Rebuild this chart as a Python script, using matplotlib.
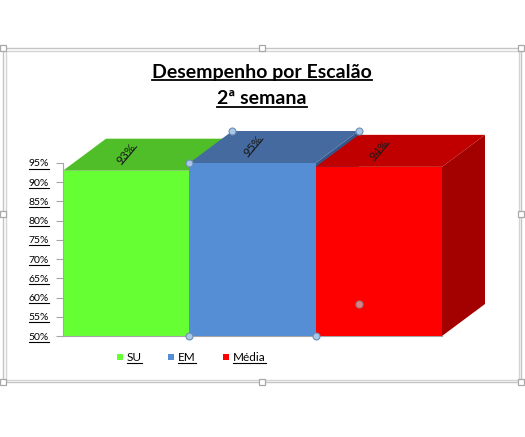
import numpy as np
import matplotlib
matplotlib.use("Agg")
import matplotlib.pyplot as plt
from matplotlib.patches import Polygon, Rectangle
from matplotlib.lines import Line2D
import matplotlib.transforms as mtransforms

# ---------------- data ----------------
categories = ["SU", "EM", "Média"]
values = [93, 95, 94]
value_labels = ["93%", "95%", "94%"]
yticks = [50, 55, 60, 65, 70, 75, 80, 85, 90, 95]
ytick_labels = [f"{v}%" for v in yticks]
title_lines = ["Desempenho por Escalão", "2ª semana"]

# ---------------- style ----------------
front_colors = ["#66FF33", "#558ED5", "#FF0000"]
top_colors = ["#4FBE29", "#446AA0", "#C00000"]
side_colors = ["#3E9A20", "#35568A", "#A30000"]
DEPTH_PX = (43, 32)
FONT = ["Lato", "DejaVu Sans"]
plt.rcParams["font.family"] = FONT

W, H = 525, 437
fig = plt.figure(figsize=(W / 100, H / 100), dpi=100)
fig.patch.set_facecolor("white")

# overlay axes in pixel coords (for chart frame)
ov = fig.add_axes([0, 0, 1, 1])
ov.set_xlim(0, W)
ov.set_ylim(H, 0)
ov.axis("off")
ov.set_zorder(-1)

# chart frame (double line + handles)
fc = "#C4C4C4"
ov.add_patch(Rectangle((3, 48), 518, 334, fill=False, ec=fc, lw=1.0))
ov.add_patch(Rectangle((5.5, 51), 513, 329, fill=False, ec="#D4D4D4", lw=1.0))
for (hx, hy) in [(3, 48), (521, 48), (3, 382), (521, 382), (262, 48), (262, 382), (3, 214), (521, 214)]:
    ov.add_patch(Rectangle((hx - 3, hy - 3), 6, 6, fc="white", ec="#A8A8A8", lw=0.9))

# main axes
x0, x1 = 63, 442
ytop, ybot = 163, 336
ax = fig.add_axes([x0 / W, (H - ybot) / H, (x1 - x0) / W, (ybot - ytop) / H])
ax.set_xlim(0, len(values))
ax.set_ylim(yticks[0], yticks[-1])
ax.patch.set_alpha(0)
for s in ["top", "right"]:
    ax.spines[s].set_visible(False)
ax.spines["left"].set_color("#A6A6A6")
ax.spines["bottom"].set_color("#A6A6A6")
ax.set_xticks([])
ax.set_yticks(yticks)
ax.set_yticklabels(ytick_labels)
ax.tick_params(axis="y", direction="out", length=5, color="#A6A6A6", labelsize=7.5, pad=5)

xs = np.arange(len(values))
bars = ax.bar(xs, np.array(values) - yticks[0], bottom=yticks[0], width=1.0,
              align="edge", color=front_colors, edgecolor="none", clip_on=False)

inv = ax.transData.inverted()


def back(pt):
    d = ax.transData.transform(pt)
    return inv.transform((d[0] + DEPTH_PX[0], d[1] + DEPTH_PX[1]))


for i, (x, v) in enumerate(zip(xs, values)):
    fl, fr = (x, v), (x + 1, v)
    top = Polygon([fl, fr, back(fr), back(fl)], closed=True, fc=top_colors[i], ec="none",
                  zorder=3 * i + 1, clip_on=False)
    br = (x + 1, yticks[0])
    side = Polygon([fr, br, back(br), back(fr)], closed=True, fc=side_colors[i], ec="none",
                   zorder=3 * i + 1, clip_on=False)
    ax.add_patch(side)
    ax.add_patch(top)
    bars.patches[i].set_zorder(3 * i + 2)

# selection handles on the EM bar
i_sel = 1
v = values[i_sel]
for pt in [(i_sel, v), back((i_sel, v)), back((i_sel + 1, v)), (i_sel, yticks[0]), (i_sel + 1, yticks[0])]:
    ax.plot([pt[0]], [pt[1]], "o", ms=5, mfc="#A9C8E8", mec="#6C8FB5", mew=0.8,
            zorder=20, clip_on=False)
hid = back((i_sel + 1, yticks[0]))
ax.plot([hid[0]], [hid[1]], "o", ms=5, mfc="#E08080", mec="#9A7A8A", mew=0.8,
        zorder=20, clip_on=False)

# data labels (rotated, underlined)
lab_tr = mtransforms.offset_copy(ax.transData, fig=fig, x=3, y=15, units="dots")
rot = 50
data_texts = []
for i, (x, v) in enumerate(zip(xs, values)):
    t = ax.text(x + 0.5, v, value_labels[i], transform=lab_tr, rotation=rot,
                rotation_mode="anchor", ha="center", va="baseline", fontsize=8.5,
                color="#1a1a1a", zorder=30, clip_on=False)
    data_texts.append(t)

# title
t1 = fig.text(262 / W, 1 - 78 / H, title_lines[0], ha="center", va="baseline",
              fontsize=14, fontweight="bold", color="black")
t2 = fig.text(262 / W, 1 - 104 / H, title_lines[1], ha="center", va="baseline",
              fontsize=14, fontweight="bold", color="black")
title_texts = [t1, t2]

# legend (manual, underlined)
leg_x = [117, 168, 223]
leg_texts = []
for i, c in enumerate(categories):
    ov.add_patch(Rectangle((leg_x[i], 354), 6, 6, fc=front_colors[i], ec="none"))
    t = fig.text((leg_x[i] + 10) / W, 1 - 361 / H, c, ha="left", va="baseline",
                 fontsize=8.5, color="black")
    leg_texts.append(t)

# ---------------- underlines ----------------
fig.canvas.draw()
renderer = fig.canvas.get_renderer()


def underline_flat(t, lw=0.8):
    s = t.get_text()
    w, h, d = renderer.get_text_width_height_descent(s, t.get_fontproperties(), ismath=False)
    bb = t.get_window_extent(renderer)
    y = bb.y0 + d * 0.45
    fig.add_artist(Line2D([bb.x0, bb.x1], [y, y], transform=None, color=t.get_color(), lw=lw))


def underline_rot(t, lw=0.75):
    s = t.get_text()
    w, h, d = renderer.get_text_width_height_descent(s, t.get_fontproperties(), ismath=False)
    th = np.deg2rad(t.get_rotation())
    u = np.array([np.cos(th), np.sin(th)])
    n = np.array([np.sin(th), -np.cos(th)])
    p = t.get_transform().transform(t.get_position())
    a = p - u * w / 2 + n * d * 0.55
    b = p + u * w / 2 + n * d * 0.55
    fig.add_artist(Line2D([a[0], b[0]], [a[1], b[1]], transform=None, color=t.get_color(), lw=lw,
                          zorder=40))


for t in title_texts:
    underline_flat(t, lw=1.3)
for t in leg_texts:
    underline_flat(t, lw=0.8)
for t in ax.get_yticklabels():
    underline_flat(t, lw=0.8)
for t in data_texts:
    underline_rot(t)

fig.savefig("out.png", dpi=100)
